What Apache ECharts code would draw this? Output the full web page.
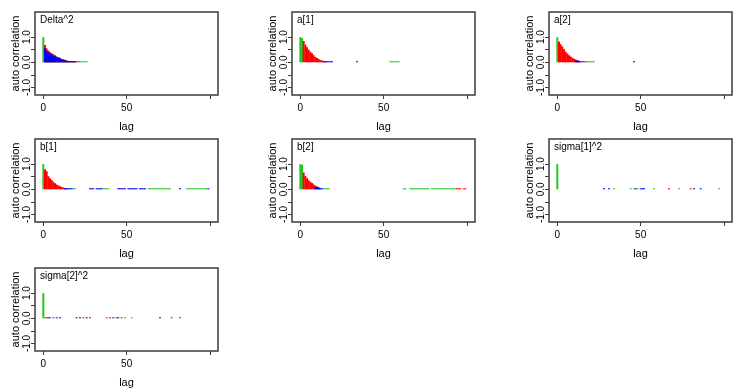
<!DOCTYPE html>
<html><head><meta charset="utf-8">
<script src="https://cdn.jsdelivr.net/npm/echarts@6/dist/echarts.min.js"></script>
<style>html,body{margin:0;padding:0;background:#fff}#c{width:741px;height:392px}</style>
</head><body><div id="c"></div>
<script>
// ---------- labels ----------
const panelTitles = ['Delta^2', 'a[1]', 'a[2]', 'b[1]', 'b[2]', 'sigma[1]^2', 'sigma[2]^2'];
const chainColors = ['#22c822', '#ff0000', '#0000ff']; // draw order: green, red, blue
const xTickValues = [0, 50, 100];
const xLabelValues = [0, 50];
const yTickValues = [-1, -0.5, 0, 0.5, 1];
const yLabelValues = [-1, 0, 1];

// ---------- data: head arrays indexed by lag (from lag 0), tails as [lag, acf] ----------
// Delta^2
const delta2Green = [1.0, 0.5, 0.4, 0.35, 0.3, 0.27, 0.24, 0.22, 0.24, 0.21, 0.18, 0.14, 0.12, 0.10, 0.07, 0.04, 0.03, 0.02, 0.02, 0.02, null, null, 0.02, 0.02, 0.02, 0.02, 0.02];
const delta2Red   = [null, 0.69, 0.55, 0.47, 0.40, 0.36, 0.32, 0.28, 0.22, 0.20, 0.17, 0.13, 0.11, 0.08, 0.07, 0.05, 0.04, 0.04, 0.03, 0.03, 0.03, 0.02];
const delta2Blue  = [null, 0.56, 0.45, 0.40, 0.36, 0.32, 0.26, 0.23, 0.20, 0.17, 0.15, 0.12, 0.10, 0.08, 0.06, 0.05, 0.04, 0.03, 0.03, 0.02];
const delta2GreenTail = [];
const delta2RedTail = [];
const delta2BlueTail = [];
// a[1]
const a1Green = [1.0, 0.97];
const a1Red   = [null, null, 0.85, 0.70, 0.60, 0.50, 0.42, 0.36, 0.28, 0.21, 0.17, 0.13, 0.09, 0.07, 0.05, 0.03];
const a1Blue  = [];
const a1GreenTail = [[54, 0.02], [55, 0.02], [56, 0.02], [57, 0.02], [58, 0.02], [59, 0.02]];
const a1RedTail = [];
const a1BlueTail = [[14, 0.03], [15, 0.03], [16, 0.03], [17, 0.02], [18, 0.02], [19, 0.02], [34, 0.02]];
// a[2]
const a2Green = [1.0];
const a2Red   = [null, 0.82, 0.72, 0.63, 0.52, 0.42, 0.35, 0.28, 0.23, 0.18, 0.14, 0.11, 0.08, 0.06];
const a2Blue  = [];
const a2GreenTail = [[18, 0.02], [19, 0.02], [20, 0.02], [21, 0.02], [22, 0.02]];
const a2RedTail = [[16, 0.03], [17, 0.02]];
const a2BlueTail = [[11, 0.08], [12, 0.07], [13, 0.05], [14, 0.04], [15, 0.03], [46, 0.02]];
// b[1]
const b1Green = [1.0];
const b1Red   = [null, 0.80, 0.72, 0.52, 0.44, 0.37, 0.30, 0.24, 0.19, 0.15, 0.12, 0.09, 0.07, 0.05, 0.04];
const b1Blue  = [];
const b1GreenTail = [[18, 0.02], [19, 0.02], [36, 0.02], [37, 0.02], [38, 0.02], [39, 0.02],
  [63, 0.02], [64, 0.02], [65, 0.02], [66, 0.02], [67, 0.02], [68, 0.02], [69, 0.02], [70, 0.02], [71, 0.02], [72, 0.02], [73, 0.02], [74, 0.02], [75, 0.02], [76, 0.02],
  [86, 0.02], [87, 0.02], [88, 0.02], [89, 0.02], [90, 0.02], [91, 0.02], [92, 0.02], [93, 0.02], [94, 0.02], [95, 0.02], [96, 0.02], [97, 0.02], [98, 0.02]];
const b1RedTail = [];
const b1BlueTail = [[13, 0.03], [14, 0.03], [15, 0.03], [16, 0.03], [17, 0.02],
  [28, 0.02], [29, 0.02], [30, 0.02], [32, 0.02], [33, 0.02], [34, 0.02], [35, 0.02],
  [45, 0.02], [46, 0.02], [47, 0.02], [48, 0.02], [49, 0.02], [51, 0.02], [52, 0.02], [53, 0.02], [54, 0.02], [55, 0.02], [56, 0.02], [58, 0.02], [59, 0.02], [60, 0.02], [61, 0.02],
  [82, 0.02], [99, 0.02]];
// b[2]
const b2Green = [1.0, 0.98];
const b2Red   = [null, null, 0.67, 0.53, 0.44, 0.36, 0.30, 0.25, 0.19, 0.15, 0.11, 0.08];
const b2Blue  = [null, null, null, null, null, null, null, null, null, 0.10, 0.09, 0.07, 0.05, 0.04];
const b2GreenTail = [[14, 0.03], [15, 0.03], [16, 0.03], [17, 0.02], [62, 0.02], [63, 0.02],
  [66, 0.02], [67, 0.02], [68, 0.02], [69, 0.02], [70, 0.02], [71, 0.02], [72, 0.02], [73, 0.02], [74, 0.02], [75, 0.02], [76, 0.02], [77, 0.02],
  [79, 0.02], [80, 0.02], [81, 0.02], [82, 0.02], [83, 0.02], [84, 0.02], [85, 0.02], [86, 0.02], [87, 0.02], [88, 0.02], [89, 0.02], [90, 0.02], [91, 0.02], [92, 0.02], [93, 0.02]];
const b2RedTail = [[94, 0.02], [95, 0.02], [96, 0.02], [98, 0.02], [99, 0.02]];
const b2BlueTail = [];
// sigma[1]^2
const s1Green = [1.0];
const s1Red = [];
const s1Blue = [];
const s1GreenTail = [[34, 0.02], [44, 0.02], [46, 0.02], [48, 0.02], [58, 0.02], [73, 0.02], [97, 0.02]];
const s1RedTail = [[67, 0.02], [80, 0.02]];
const s1BlueTail = [[28, 0.02], [31, 0.02], [47, 0.02], [50, 0.02], [51, 0.03], [52, 0.02], [82, 0.02], [86, 0.02]];
// sigma[2]^2
const s2Green = [1.0, 0.02];
const s2Red = [];
const s2Blue = [];
const s2GreenTail = [[49, 0.02], [53, 0.02]];
const s2RedTail = [[2, 0.02], [4, 0.02], [6, 0.02], [24, 0.02], [28, 0.02], [38, 0.02], [40, 0.02], [44, 0.02], [47, 0.02], [77, 0.02], [82, 0.02]];
const s2BlueTail = [[3, 0.02], [8, 0.02], [10, 0.02], [20, 0.02], [22, 0.02], [26, 0.02], [42, 0.02], [45, 0.02], [70, 0.02]];

const panelChains = [
  [[delta2Green, delta2GreenTail], [delta2Red, delta2RedTail], [delta2Blue, delta2BlueTail]],
  [[a1Green, a1GreenTail], [a1Red, a1RedTail], [a1Blue, a1BlueTail]],
  [[a2Green, a2GreenTail], [a2Red, a2RedTail], [a2Blue, a2BlueTail]],
  [[b1Green, b1GreenTail], [b1Red, b1RedTail], [b1Blue, b1BlueTail]],
  [[b2Green, b2GreenTail], [b2Red, b2RedTail], [b2Blue, b2BlueTail]],
  [[s1Green, s1GreenTail], [s1Red, s1RedTail], [s1Blue, s1BlueTail]],
  [[s2Green, s2GreenTail], [s2Red, s2RedTail], [s2Blue, s2BlueTail]]
];

// ---------- layout ----------
const colLeft = [35, 292, 549];
const rowTop = [12, 139, 268];
const boxW = 183, boxH = 83;
const axisColor = '#3c3c3c';
const font = 'Liberation Sans, Arial, sans-serif';

const grids = [], xAxes = [], yAxes = [], titles = [], series = [];
panelTitles.forEach((t, p) => {
  const col = p % 3, row = Math.floor(p / 3);
  grids.push({ left: colLeft[col], top: rowTop[row], width: boxW, height: boxH, show: true,
    borderColor: axisColor, borderWidth: 1.5, backgroundColor: '#fff', containLabel: false, outerBoundsMode: 'none' });
  xAxes.push({ type: 'value', gridIndex: p, min: -5, max: 104.8, position: 'bottom',
    axisLine: { show: false, onZero: false }, splitLine: { show: false },
    axisTick: { show: true, inside: false, length: 4, customValues: xTickValues, lineStyle: { color: axisColor, width: 1 } },
    axisLabel: { customValues: xLabelValues, fontSize: 10, color: '#000', margin: 8, fontFamily: font },
    name: 'lag', nameLocation: 'middle', nameGap: 26, nameTextStyle: { fontSize: 11, color: '#000', fontFamily: font } });
  yAxes.push({ type: 'value', gridIndex: p, min: -1.3, max: 2.0, position: 'left',
    axisLine: { show: false, onZero: false }, splitLine: { show: false },
    axisTick: { show: true, inside: false, length: 4, customValues: yTickValues, lineStyle: { color: axisColor, width: 1 } },
    axisLabel: { customValues: yLabelValues, rotate: 90, fontSize: 10, color: '#000', margin: 3, fontFamily: font,
      formatter: v => Number(v).toFixed(1) },
    name: 'auto correlation', nameLocation: 'middle', nameGap: 14, nameRotate: 90,
    nameTextStyle: { fontSize: 11, color: '#000', fontFamily: font } });
  titles.push({ text: t, left: colLeft[col] + 5, top: rowTop[row] + 3, padding: 0,
    textStyle: { fontSize: 10, fontWeight: 'normal', color: '#000', fontFamily: font } });
  panelChains[p].forEach((chain, c) => {
    const head = chain[0], tail = chain[1];
    const data = [];
    head.forEach((v, lag) => { if (v !== null && v !== undefined) data.push([lag, v]); });
    tail.forEach(d => data.push(d));
    series.push({ type: 'bar', xAxisIndex: p, yAxisIndex: p, data: data, barWidth: 2, barGap: '-100%',
      barMinHeight: 1, itemStyle: { color: chainColors[c] }, silent: true, animation: false });
  });
});

const chart = echarts.init(document.getElementById('c'), null, { renderer: 'canvas' });
chart.setOption({ animation: false, backgroundColor: '#fff', title: titles, grid: grids, xAxis: xAxes, yAxis: yAxes, series: series });
</script></body></html>
